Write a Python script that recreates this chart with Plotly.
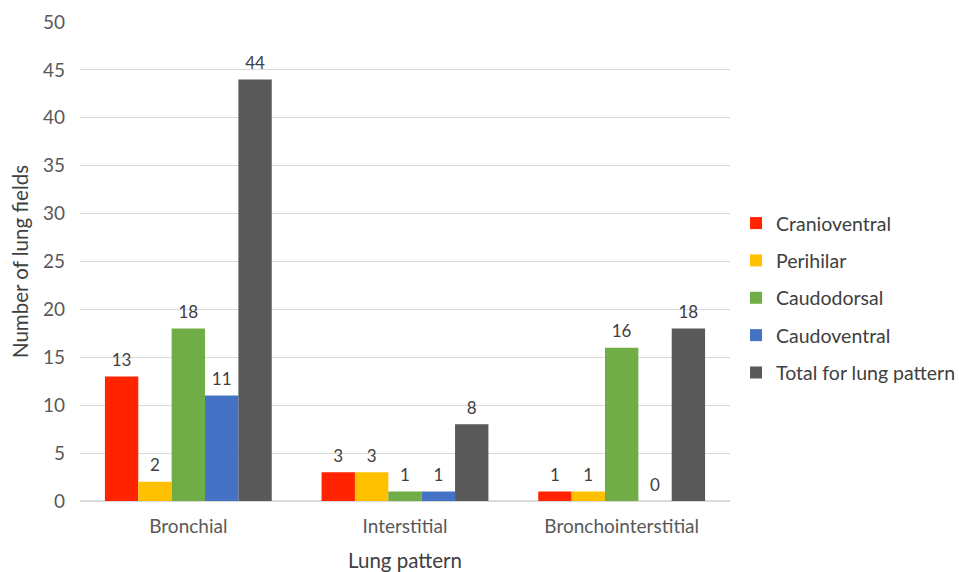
import plotly.graph_objects as go

categories = ["Bronchial", "Interstitial", "Bronchointerstitial"]
series_names = ["Cranioventral", "Perihilar", "Caudodorsal", "Caudoventral", "Total for lung pattern"]
cranioventral = [13, 3, 1]
perihilar = [2, 3, 1]
caudodorsal = [18, 1, 16]
caudoventral = [11, 1, 0]
total = [44, 8, 18]
colors = ["#FF2300", "#FFC000", "#70AD47", "#4472C4", "#595959"]

series_values = [cranioventral, perihilar, caudodorsal, caudoventral, total]

FONT = "Lato, Open Sans, sans-serif"
fig = go.Figure()
for i, (name, vals, col) in enumerate(zip(series_names, series_values, colors)):
    fig.add_trace(go.Bar(
        x=categories, y=vals, name=name, marker_color=col,
        marker_line_width=0,
        text=[f"<span style='font-size:17px'>{v}</span><br> " for v in vals],
        textposition="outside",
        textfont=dict(family=FONT, size=5, color="#404040"),
        cliponaxis=False, legendgroup=f"g{i}",
    ))

fig.update_layout(
    width=959, height=572,
    margin=dict(l=80, r=229, t=22, b=71, autoexpand=False),
    paper_bgcolor="white", plot_bgcolor="white",
    barmode="group", bargap=0.23, bargroupgap=0,
    font=dict(family=FONT, size=19, color="#595959"),
    legend=dict(xref="container", yref="paper", x=0.7675, y=0.424,
                yanchor="middle", xanchor="left",
                font=dict(family=FONT, size=19.5, color="#404040"),
                tracegroupgap=9, itemwidth=30),
    showlegend=True,
)
fig.update_yaxes(range=[0, 50], dtick=5, showgrid=True, gridcolor="#D9D9D9",
                 gridwidth=1, zeroline=True, zerolinecolor="#D9D9D9",
                 showline=False, ticks="", ticklen=0, ticklabelstandoff=14,
                 tickfont=dict(family=FONT, size=19, color="#595959"),
                 title=dict(text="Number of lung fields", standoff=8,
                            font=dict(family=FONT, size=20.5, color="#404040")))
fig.update_xaxes(showline=True, linecolor="#D9D9D9", ticks="",
                 ticklabelstandoff=8,
                 tickfont=dict(family=FONT, size=19, color="#595959"),
                 title=dict(text="Lung pattern", standoff=18,
                            font=dict(family=FONT, size=20.5, color="#404040")))

fig.write_html("out.html")
